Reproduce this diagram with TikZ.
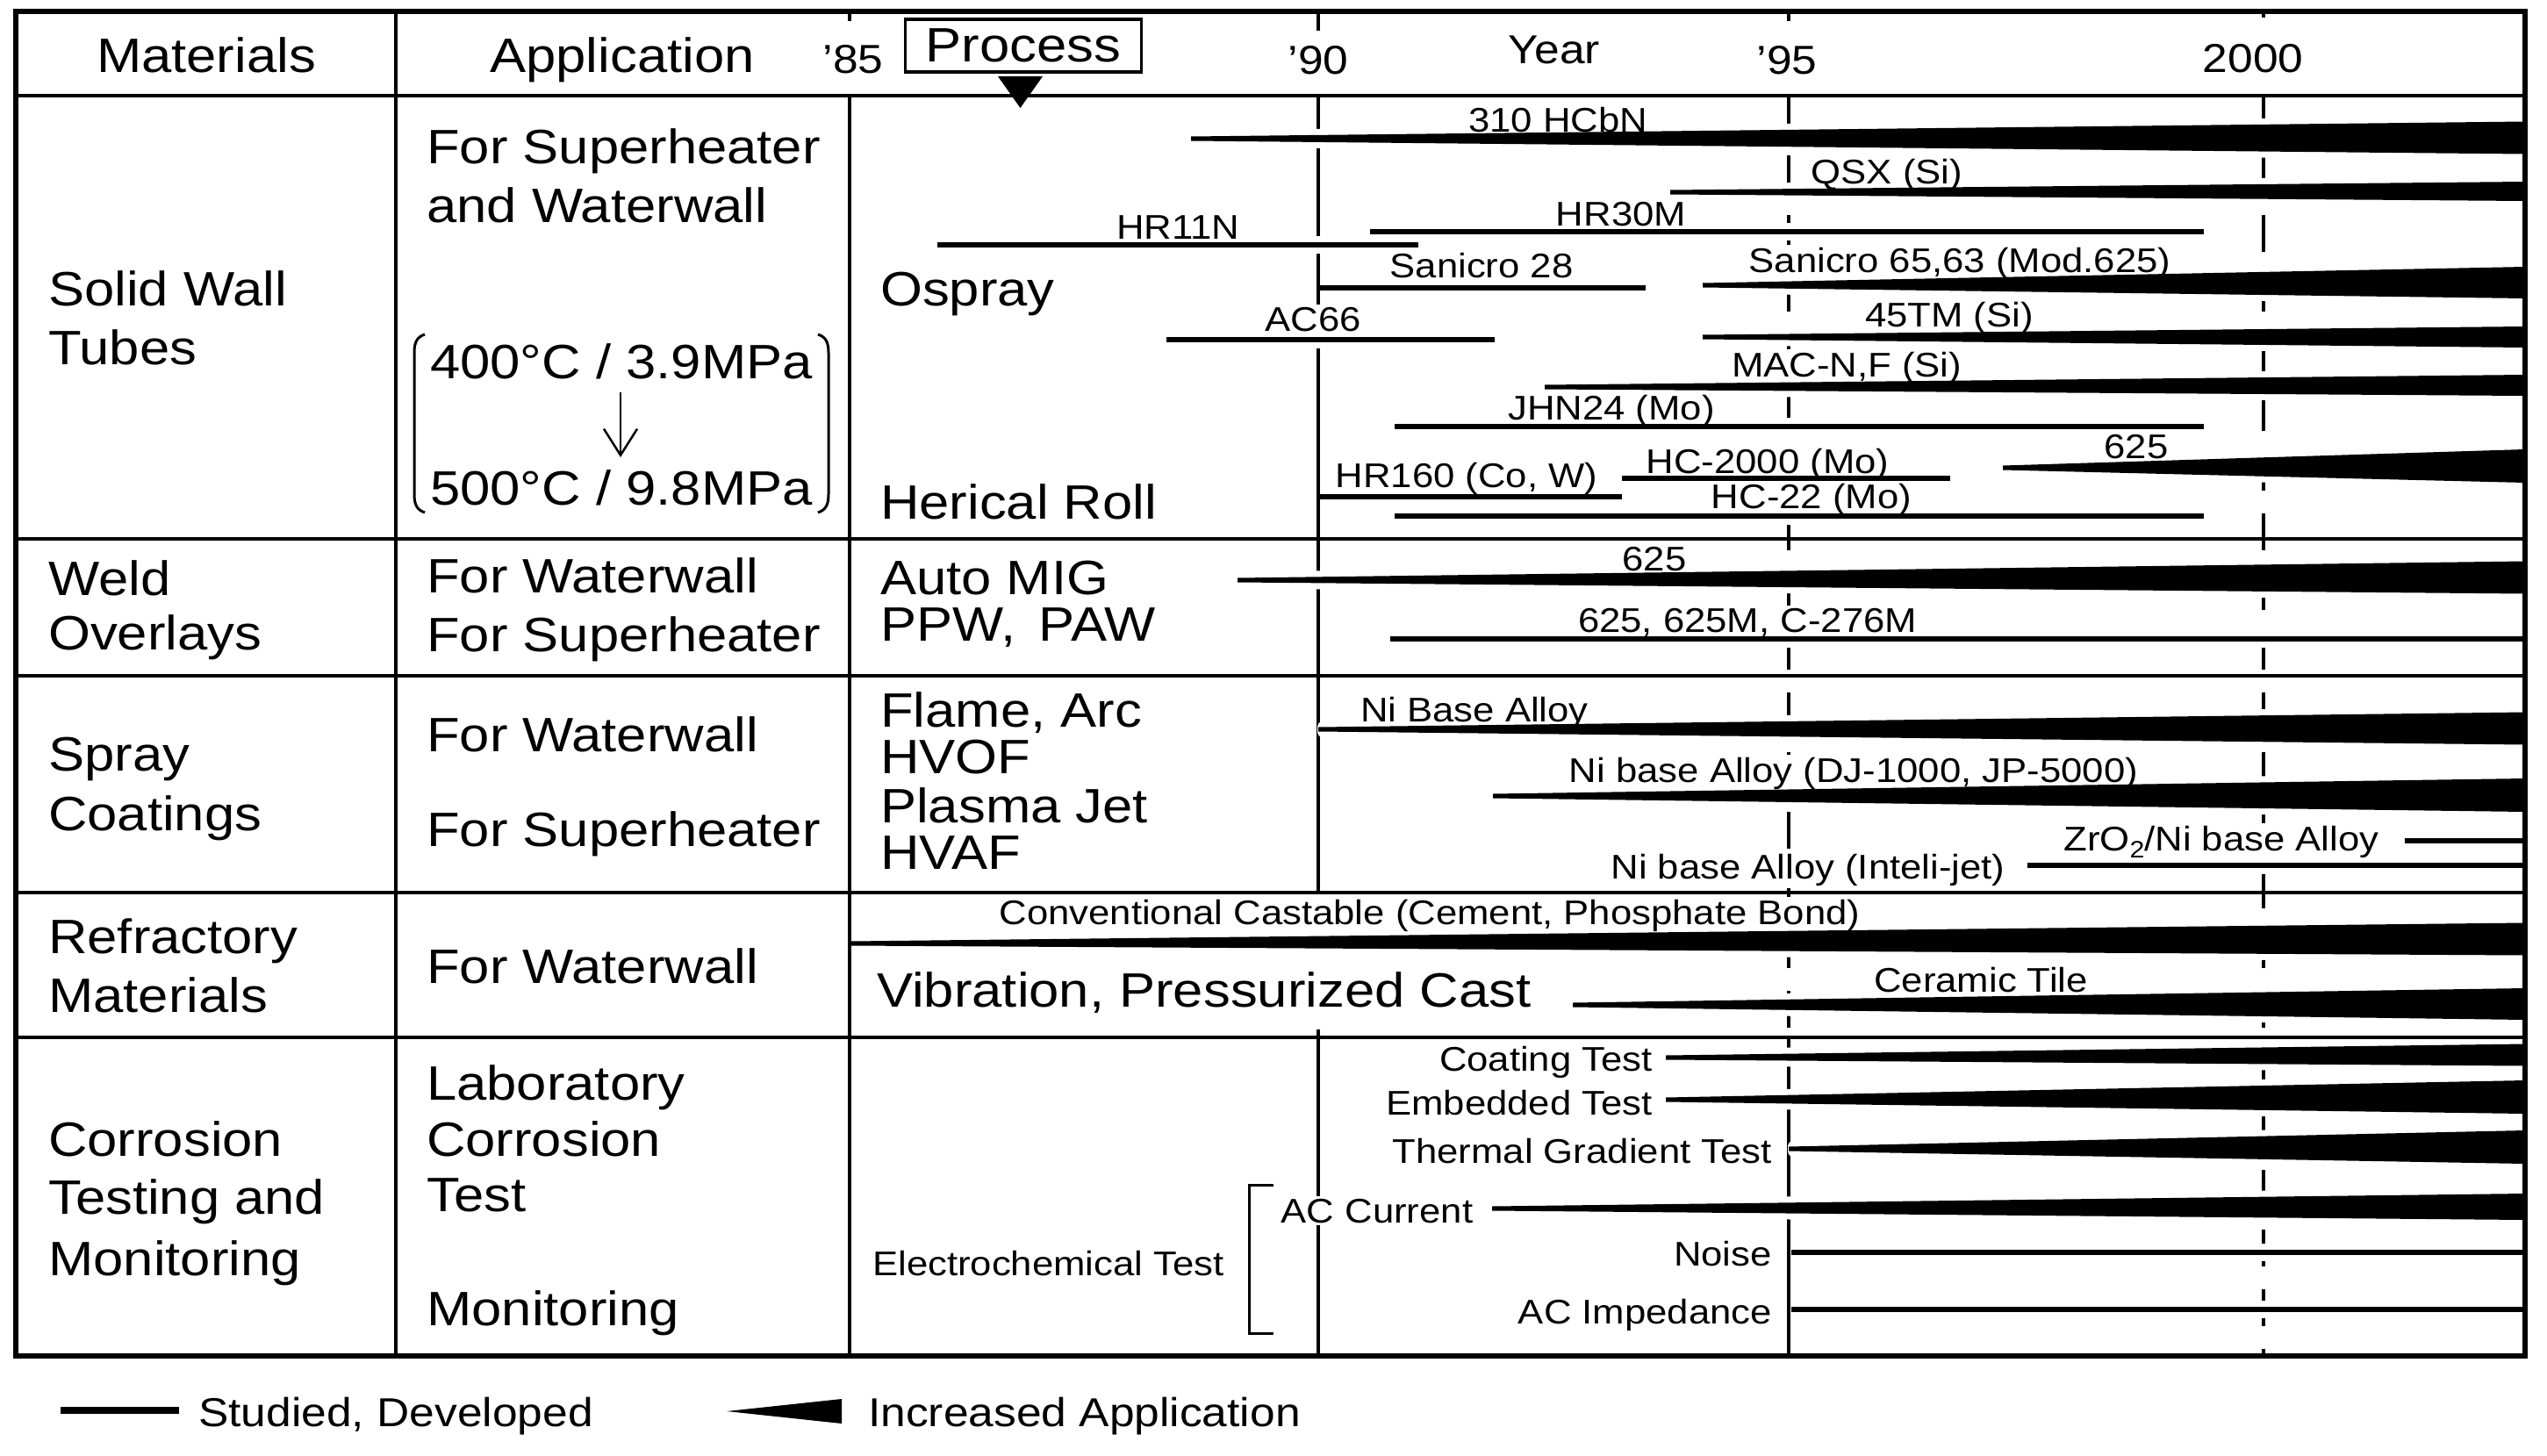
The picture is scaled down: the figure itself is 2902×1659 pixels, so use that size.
\documentclass[tikz,border=0pt]{standalone}
\usepackage{fontspec}
\setmainfont{Liberation Sans}[FakeStretch=1.12]
\usetikzlibrary{arrows.meta}
\newcommand{\fbig}{\fontsize{55}{62}\selectfont}
\newcommand{\fmed}{\fontsize{46}{52}\selectfont}
\newcommand{\fsm}{\fontsize{39}{44}\selectfont}
\begin{document}
\begin{tikzpicture}[x=1pt,y=-1pt,
  bigtxt/.style={font=\fbig, inner sep=0pt, anchor=base west},
  medtxt/.style={font=\fmed, inner sep=0pt, anchor=base},
  lab/.style={font=\fsm, fill=white, inner xsep=3pt, inner ysep=3pt, anchor=base},
  labr/.style={lab, anchor=base east},
  yearline/.style={line width=4pt},
  dashyear/.style={line width=4pt, dash pattern=on 42pt off 26pt},
  gridline/.style={line width=4.5pt},
  devbar/.style={line width=6pt},
  halo/.style={white, line width=20pt},
]
\useasboundingbox (0,0) rectangle (2902,1659);
\fill[white] (0,0) rectangle (2902,1659);

% ---- year lines
\draw[yearline] (1502,109) -- (1502,1017);
\draw[yearline] (1502,1173) -- (1502,1545);
\draw[dashyear] (2038,109) -- (2038,1182);
\draw[yearline] (2038,1182) -- (2038,1545);
\draw[dashyear] (2579,109) -- (2579,1545);

\def\wedges{1357/158/157/37, 1903/219/218/22, 1940/325/322/36, 1940/384/384/24, 1760/441/439/24, 2282/533/531/38, 1410/661/658/37, 1502/831/830/37, 1701/907/906/38, 968/1075/1070/37, 1792/1145/1144/36, 1898/1205/1202/25, 1898/1253/1250/38, 2038/1309/1307/38, 1700/1377/1375/30}
\def\bars{1068/1616/279, 1561/2511/264, 1502/1875/328, 1329/1703/387, 1589/2511/486, 1848/2222/545, 1502/1848/566, 1589/2511/588, 1584/2877/728, 2740/2877/958, 2310/2877/986, 2041/2877/1427, 2041/2877/1492}

% ---- halos
\foreach \wx/\wy/\wc/\wt in \wedges {
  \filldraw[white, line width=14pt, line join=round] (\wx+6,\wy-2.5) -- (2877,\wc-\wt/2) -- (2877,\wc+\wt/2) -- (\wx+6,\wy+2.5) -- cycle;
}
\foreach \bx/\be/\by in \bars {
  \draw[halo] (\bx+6,\by) -- (\be,\by);
}

% ---- chart labels
\node[lab] (l310) at (1775,150) {310 HCbN};
\node[lab] (lqsx) at (2150,209) {QSX (Si)};
\node[lab] (lhr30) at (1847,257) {HR30M};
\node[lab] (lhr11) at (1342,272) {HR11N};
\node[lab] (lsan28) at (1688,316) {Sanicro 28};
\node[lab] (lsan65) at (2233,310) {Sanicro 65,63 (Mod.625)};
\node[lab] (lac66) at (1496,377) {AC66};
\node[lab] (l45tm) at (2221,372) {45TM (Si)};
\node[lab] (lmac) at (2104,429) {MAC-N,F (Si)};
\node[lab] (ljhn) at (1836,478) {JHN24 (Mo)};
\node[lab] (l625a) at (2434,522) {625};
\node[lab] (lhc2000) at (2014,539) {HC-2000 (Mo)};
\node[lab] (lhr160) at (1671,555) {HR160 (Co, W)};
\node[lab] (lhc22) at (2064,579) {HC-22 (Mo)};
\node[lab] (l625w) at (1885,650) {625};
\node[lab] (l625m) at (1991,720) {625, 625M, C-276M};
\node[lab] (lni1) at (1680,822) {Ni Base Alloy};
\node[lab] (lni2) at (2112,891) {Ni base Alloy (DJ-1000, JP-5000)};
\node[lab] (lzro) at (2531,969) {ZrO\raisebox{-8pt}{\fontsize{27}{30}\selectfont 2}/Ni base Alloy};
\node[lab] (lni3) at (2060,1001) {Ni base Alloy (Inteli-jet)};
\node[lab] (lconv) at (1629,1053) {Conventional Castable (Cement, Phosphate Bond)};
\node[lab] (lcer) at (2257,1130) {Ceramic Tile};
\node[labr] (lcoat) at (1886,1220) {Coating Test};
\node[labr] (lemb) at (1886,1270) {Embedded Test};
\node[labr] (lthg) at (2022,1325) {Thermal Gradient Test};
\node[lab] (lacc) at (1569,1393) {AC Current};
\node[labr] (lnoise) at (2022,1442) {Noise};
\node[labr] (lacimp) at (2022,1508) {AC Impedance};

% ---- black bars and wedges
\foreach \wx/\wy/\wc/\wt in \wedges {
  \fill (\wx,\wy-2.5) -- (2877,\wc-\wt/2) -- (2877,\wc+\wt/2) -- (\wx,\wy+2.5) -- cycle;
}
\foreach \bx/\be/\by in \bars {
  \draw[devbar] (\bx,\by) -- (\be,\by);
}

% ---- table grid
\draw[gridline] (18,109) -- (2877,109);
\draw[gridline] (18,614) -- (2877,614);
\draw[gridline] (18,770) -- (2877,770);
\draw[gridline] (18,1017) -- (2877,1017);
\draw[gridline] (18,1182) -- (2877,1182);
\draw[line width=4pt] (451,13) -- (451,1545);
\draw[line width=4pt] (968,109) -- (968,1545);
\draw[line width=5.5pt] (18,13) rectangle (2877,1545);
\draw[yearline] (968,13) -- (968,24);
\draw[yearline] (1502,13) -- (1502,35);
\draw[yearline] (2038,13) -- (2038,24);
\draw[yearline] (2579,13) -- (2579,20);

% ---- header
\node[font=\fbig, inner sep=0pt, anchor=base] (hmat) at (235,83) {Materials};
\node[font=\fbig, inner sep=0pt, anchor=base] (happ) at (709,83) {Application};
\node[medtxt] (y85) at (972,84) {’85};
\node[medtxt] (y90) at (1502,85) {’90};
\node[medtxt] (yyear) at (1771,73) {Year};
\node[medtxt] (y95) at (2036,85) {’95};
\node[medtxt] (y00) at (2567,83) {2000};
\node[draw, line width=3.5pt, minimum width=269pt, minimum height=60pt, font=\fbig, inner sep=0pt] (proc) at (1166,52) {Process};
\fill (1137,87) -- (1188,87) -- (1162.5,123) -- cycle;

% ---- Solid wall tubes
\node[bigtxt] (m1a) at (55,348) {Solid Wall};
\node[bigtxt] (m1b) at (55,415) {Tubes};
\node[bigtxt] (a1a) at (486,186) {For Superheater};
\node[bigtxt] (a1b) at (486,253) {and Waterwall};
\node[bigtxt] (a1c) at (490,431) {400°C / 3.9MPa};
\node[bigtxt] (a1d) at (490,575) {500°C / 9.8MPa};
\coordinate (arrA) at (707,447);
\coordinate (arrB) at (707,521);
\draw[line width=2.5pt, -{Straight Barb[length=30pt,width=38pt]}] (arrA) -- (arrB);
\draw[line width=3pt] (484,381) .. controls (475,384) and (472,390) .. (472,402) -- (472,563) .. controls (472,575) and (475,581) .. (484,584);
\draw[line width=3pt] (932,381) .. controls (941,384) and (944,390) .. (944,402) -- (944,563) .. controls (944,575) and (941,581) .. (932,584);
\node[bigtxt] (p1a) at (1003,348) {Ospray};
\node[bigtxt] (p1b) at (1003,591) {Herical Roll};

% ---- Weld overlays
\node[bigtxt] (m2a) at (55,678) {Weld};
\node[bigtxt] (m2b) at (55,740) {Overlays};
\node[bigtxt] (a2a) at (486,675) {For Waterwall};
\node[bigtxt] (a2b) at (486,742) {For Superheater};
\node[bigtxt] (p2a) at (1003,677) {Auto MIG};
\node[bigtxt] (p2b) at (1003,730) {PPW,\, PAW};

% ---- Spray coatings
\node[bigtxt] (m3a) at (55,878) {Spray};
\node[bigtxt] (m3b) at (55,946) {Coatings};
\node[bigtxt] (a3a) at (486,856) {For Waterwall};
\node[bigtxt] (a3b) at (486,964) {For Superheater};
\node[bigtxt] (p3a) at (1003,828) {Flame, Arc};
\node[bigtxt] (p3b) at (1003,881) {HVOF};
\node[bigtxt] (p3c) at (1003,937) {Plasma Jet};
\node[bigtxt] (p3d) at (1003,990) {HVAF};

% ---- Refractory
\node[bigtxt] (m4a) at (55,1086) {Refractory};
\node[bigtxt] (m4b) at (55,1153) {Materials};
\node[bigtxt] (a4a) at (486,1120) {For Waterwall};
\node[bigtxt] (p4a) at (999,1147) {Vibration, Pressurized Cast};

% ---- Corrosion
\node[bigtxt] (m5a) at (55,1317) {Corrosion};
\node[bigtxt] (m5b) at (55,1383) {Testing and};
\node[bigtxt] (m5c) at (55,1453) {Monitoring};
\node[bigtxt] (a5a) at (486,1253) {Laboratory};
\node[bigtxt] (a5b) at (486,1317) {Corrosion};
\node[bigtxt] (a5c) at (486,1380) {Test};
\node[bigtxt] (a5d) at (486,1510) {Monitoring};
\node[font=\fsm, inner sep=0pt, anchor=base west] (echem) at (994,1453) {Electrochemical Test};
\draw[line width=3pt] (1451,1350) -- (1423,1350) -- (1423,1519) -- (1451,1519);

% ---- legend
\coordinate (lgA) at (69,1607);
\coordinate (lgB) at (204,1607);
\draw[line width=8pt] (lgA) -- (lgB);
\node[font=\fmed, inner sep=0pt, anchor=base west] (lg1) at (226,1625) {Studied, Developed};
\fill (828,1608) -- (959,1594) -- (959,1622) -- cycle;
\node[font=\fmed, inner sep=0pt, anchor=base west] (lg2) at (989,1625) {Increased Application};
\end{tikzpicture}
\end{document}
